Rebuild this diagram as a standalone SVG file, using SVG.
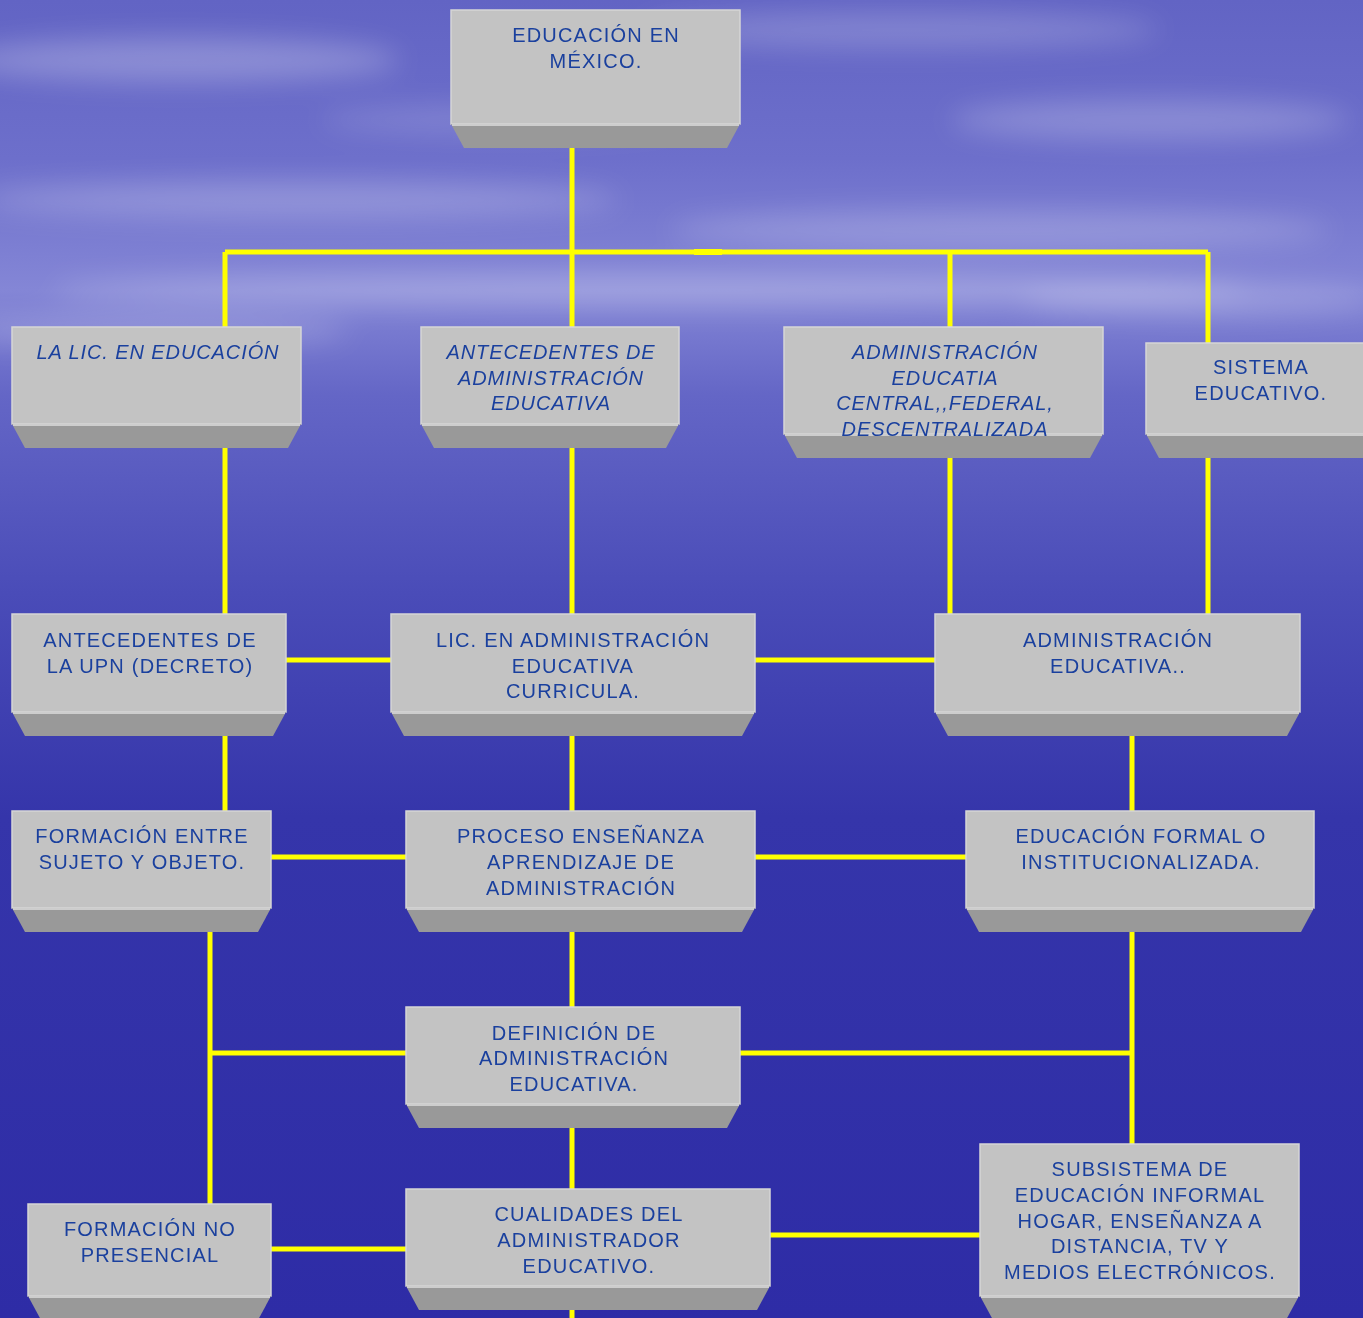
<svg xmlns="http://www.w3.org/2000/svg" width="1363" height="1318" viewBox="0 0 1363 1318">
<defs>
<linearGradient id="bg" x1="0" y1="0" x2="0" y2="1">
<stop offset="0" stop-color="#6264c4"/>
<stop offset="0.12" stop-color="#6d6fcb"/>
<stop offset="0.22" stop-color="#8486d6"/>
<stop offset="0.3" stop-color="#6466c6"/>
<stop offset="0.45" stop-color="#4a4cb8"/>
<stop offset="0.62" stop-color="#3535aa"/>
<stop offset="1" stop-color="#2e2ca6"/>
</linearGradient>
<filter id="blur" x="-50%" y="-50%" width="200%" height="200%"><feGaussianBlur stdDeviation="14"/></filter>
<style>
.face{fill:#c3c3c3;stroke:#d6d6d6;stroke-width:1.5}
.bev{fill:#999999}
.edge{stroke:#cdcdcd;stroke-width:2}
.t{font-family:"Liberation Sans",Arial,sans-serif;font-size:20px;fill:#1a409e;text-anchor:middle;letter-spacing:1.2px}
.i{font-style:italic;letter-spacing:0.9px}
.c{stroke:#ffff00;stroke-width:5;fill:none}
</style>
</defs>
<rect x="0" y="0" width="1363" height="1318" fill="url(#bg)"/>
<g filter="url(#blur)" fill="#ffffff">
<ellipse cx="180" cy="60" rx="220" ry="22" opacity="0.25"/>
<ellipse cx="900" cy="30" rx="260" ry="18" opacity="0.2"/>
<ellipse cx="1150" cy="120" rx="200" ry="20" opacity="0.22"/>
<ellipse cx="300" cy="200" rx="320" ry="18" opacity="0.22"/>
<ellipse cx="1000" cy="230" rx="330" ry="20" opacity="0.2"/>
<ellipse cx="650" cy="290" rx="600" ry="16" opacity="0.25"/>
<ellipse cx="150" cy="330" rx="200" ry="16" opacity="0.2"/>
<ellipse cx="1200" cy="300" rx="180" ry="16" opacity="0.2"/>
<ellipse cx="500" cy="120" rx="180" ry="15" opacity="0.15"/>
</g>
<g id="connectors" class="c">
<path d="M572 148V1318"/>
<path d="M225 252H1208"/>
<rect x="694" y="249" width="28" height="6" fill="#ffff00" stroke="none"/>
<path d="M225 252V614"/>
<path d="M950 252V614"/>
<path d="M1208 252V614"/>
<path d="M286 660H935"/>
<path d="M225 736V811"/>
<path d="M1132 736V1318"/>
<path d="M271 857H966"/>
<path d="M210 932V1318"/>
<path d="M210 1053H1132"/>
<path d="M271 1249H406"/>
<path d="M770 1235H980"/>
</g>
<g id="n1">
<rect class="face" x="451" y="10" width="289" height="114"/>
<polygon class="bev" points="451,124 740,124 727,148 464,148"/>
<line class="edge" x1="452" y1="125" x2="739" y2="125"/>
<text class="t" x="596" y="42">EDUCACIÓN EN</text>
<text class="t" x="596" y="68">MÉXICO.</text>
</g>
<g id="n2">
<rect class="face" x="12" y="327" width="289" height="97"/>
<polygon class="bev" points="12,424 301,424 288,448 25,448"/>
<line class="edge" x1="13" y1="425" x2="300" y2="425"/>
<text class="t i" x="158" y="359">LA LIC. EN EDUCACIÓN</text>
</g>
<g id="n3">
<rect class="face" x="421" y="327" width="258" height="97"/>
<polygon class="bev" points="421,424 679,424 666,448 434,448"/>
<line class="edge" x1="422" y1="425" x2="678" y2="425"/>
<text class="t i" x="551" y="359">ANTECEDENTES DE</text>
<text class="t i" x="551" y="385">ADMINISTRACIÓN</text>
<text class="t i" x="551" y="410">EDUCATIVA</text>
</g>
<g id="n4">
<rect class="face" x="784" y="327" width="319" height="107"/>
<polygon class="bev" points="784,434 1103,434 1090,458 797,458"/>
<line class="edge" x1="785" y1="435" x2="1102" y2="435"/>
<text class="t i" x="945" y="359">ADMINISTRACIÓN</text>
<text class="t i" x="945" y="385">EDUCATIA</text>
<text class="t i" x="945" y="410">CENTRAL,,FEDERAL,</text>
<text class="t i" x="945" y="436">DESCENTRALIZADA</text>
</g>
<g id="n5">
<rect class="face" x="1146" y="343" width="225" height="91"/>
<polygon class="bev" points="1146,434 1371,434 1371,458 1159,458"/>
<line class="edge" x1="1147" y1="435" x2="1363" y2="435"/>
<text class="t" x="1261" y="374">SISTEMA</text>
<text class="t" x="1261" y="400">EDUCATIVO.</text>
</g>
<g id="n6">
<rect class="face" x="12" y="614" width="274" height="98"/>
<polygon class="bev" points="12,712 286,712 273,736 25,736"/>
<line class="edge" x1="13" y1="713" x2="285" y2="713"/>
<text class="t" x="150" y="647">ANTECEDENTES DE</text>
<text class="t" x="150" y="673">LA UPN (DECRETO)</text>
</g>
<g id="n7">
<rect class="face" x="391" y="614" width="364" height="98"/>
<polygon class="bev" points="391,712 755,712 742,736 404,736"/>
<line class="edge" x1="392" y1="713" x2="754" y2="713"/>
<text class="t" x="573" y="647">LIC. EN ADMINISTRACIÓN</text>
<text class="t" x="573" y="673">EDUCATIVA</text>
<text class="t" x="573" y="698">CURRICULA.</text>
</g>
<g id="n8">
<rect class="face" x="935" y="614" width="365" height="98"/>
<polygon class="bev" points="935,712 1300,712 1287,736 948,736"/>
<line class="edge" x1="936" y1="713" x2="1299" y2="713"/>
<text class="t" x="1118" y="647">ADMINISTRACIÓN</text>
<text class="t" x="1118" y="673">EDUCATIVA..</text>
</g>
<g id="n9">
<rect class="face" x="12" y="811" width="259" height="97"/>
<polygon class="bev" points="12,908 271,908 258,932 25,932"/>
<line class="edge" x1="13" y1="909" x2="270" y2="909"/>
<text class="t" x="142" y="843">FORMACIÓN ENTRE</text>
<text class="t" x="142" y="869">SUJETO Y OBJETO.</text>
</g>
<g id="n10">
<rect class="face" x="406" y="811" width="349" height="97"/>
<polygon class="bev" points="406,908 755,908 742,932 419,932"/>
<line class="edge" x1="407" y1="909" x2="754" y2="909"/>
<text class="t" x="581" y="843">PROCESO ENSEÑANZA</text>
<text class="t" x="581" y="869">APRENDIZAJE DE</text>
<text class="t" x="581" y="895">ADMINISTRACIÓN</text>
</g>
<g id="n11">
<rect class="face" x="966" y="811" width="348" height="97"/>
<polygon class="bev" points="966,908 1314,908 1301,932 979,932"/>
<line class="edge" x1="967" y1="909" x2="1313" y2="909"/>
<text class="t" x="1141" y="843">EDUCACIÓN FORMAL O</text>
<text class="t" x="1141" y="869">INSTITUCIONALIZADA.</text>
</g>
<g id="n12">
<rect class="face" x="406" y="1007" width="334" height="97"/>
<polygon class="bev" points="406,1104 740,1104 727,1128 419,1128"/>
<line class="edge" x1="407" y1="1105" x2="739" y2="1105"/>
<text class="t" x="574" y="1040">DEFINICIÓN DE</text>
<text class="t" x="574" y="1065">ADMINISTRACIÓN</text>
<text class="t" x="574" y="1091">EDUCATIVA.</text>
</g>
<g id="n13">
<rect class="face" x="28" y="1204" width="243" height="92"/>
<polygon class="bev" points="28,1296 271,1296 258,1320 41,1320"/>
<line class="edge" x1="29" y1="1297" x2="270" y2="1297"/>
<text class="t" x="150" y="1236">FORMACIÓN NO</text>
<text class="t" x="150" y="1262">PRESENCIAL</text>
</g>
<g id="n14">
<rect class="face" x="406" y="1189" width="364" height="97"/>
<polygon class="bev" points="406,1286 770,1286 757,1310 419,1310"/>
<line class="edge" x1="407" y1="1287" x2="769" y2="1287"/>
<text class="t" x="589" y="1221">CUALIDADES DEL</text>
<text class="t" x="589" y="1247">ADMINISTRADOR</text>
<text class="t" x="589" y="1273">EDUCATIVO.</text>
</g>
<g id="n15">
<rect class="face" x="980" y="1144" width="319" height="152"/>
<polygon class="bev" points="980,1296 1299,1296 1286,1320 993,1320"/>
<line class="edge" x1="981" y1="1297" x2="1298" y2="1297"/>
<text class="t" x="1140" y="1176">SUBSISTEMA DE</text>
<text class="t" x="1140" y="1202">EDUCACIÓN INFORMAL</text>
<text class="t" x="1140" y="1228">HOGAR, ENSEÑANZA A</text>
<text class="t" x="1140" y="1253">DISTANCIA, TV Y</text>
<text class="t" x="1140" y="1279">MEDIOS ELECTRÓNICOS.</text>
</g>
</svg>
